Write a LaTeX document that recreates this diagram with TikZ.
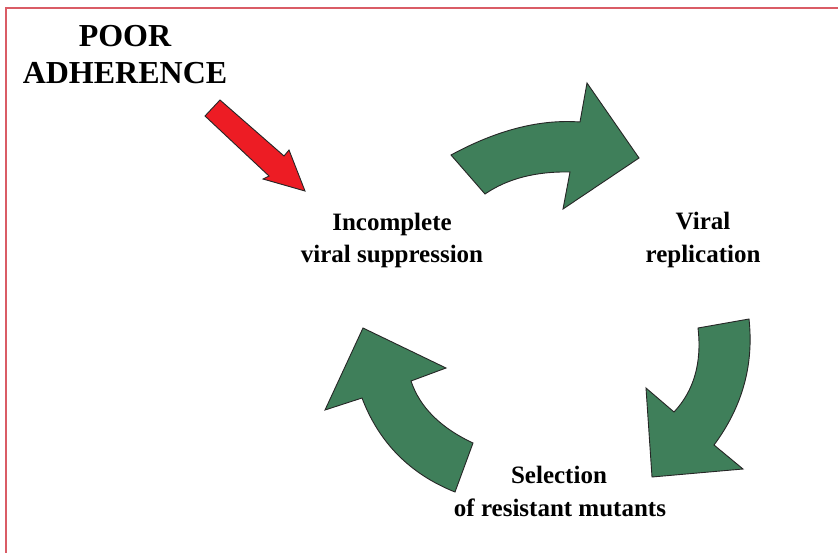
\documentclass[tikz,border=0pt]{standalone}
\usepackage{fontspec}
\setmainfont{Liberation Serif}
\definecolor{arrowgreen}{RGB}{63,127,90}
\definecolor{arrowred}{RGB}{237,28,36}
\definecolor{framered}{RGB}{218,92,102}
\begin{document}
\begin{tikzpicture}[x=1pt,y=-1pt,
  greenarrow/.style={fill=arrowgreen,draw=black!85,line width=0.9pt,line join=miter},
  redarrow/.style={fill=arrowred,draw=black!85,line width=0.9pt,line join=miter},
  label/.style={font=\fontsize{25}{33}\selectfont\bfseries,align=center,inner sep=0pt},
  title/.style={font=\fontsize{32}{37}\selectfont\bfseries,align=center,inner sep=0pt}]
\useasboundingbox (0,0) rectangle (838,552);
\fill[white] (0,0) rectangle (838,552);
% frame
\draw[framered,line width=2pt] (6,560) -- (6,7.5) -- (850,7.5);

% title
\node[title,anchor=base] (poor) at (125,46) {POOR};
\node[title,anchor=base] (adh) at (125,83) {ADHERENCE};

% labels
\node[label,anchor=base] (inc1) at (392,230) {Incomplete};
\node[label,anchor=base] (inc2) at (392,262) {viral suppression};
\node[label,anchor=base] (vir1) at (703,229) {Viral};
\node[label,anchor=base] (vir2) at (703,262) {replication};
\node[label,anchor=base] (sel1) at (559,483) {Selection};
\node[label,anchor=base] (sel2) at (560,516) {of resistant mutants};

% red arrow
\draw[redarrow] (220,100) -- (205,116) -- (269,176) -- (263,179) -- (305,191)
  -- (289,150) -- (284,156) -- cycle;

% top green arrow
\draw[greenarrow] (451,155) .. controls (497,130) and (540,119) .. (580,122)
  -- (587,83) -- (639,158) -- (563,209) -- (570,172)
  .. controls (535.7,171.3) and (507.3,178.7) .. (485,194) -- cycle;

% right green arrow
\draw[greenarrow] (698,328) -- (749,319)
  .. controls (754,365) and (742.3,407) .. (714,445)
  -- (743,469) -- (652,477) -- (646,388) -- (674,412)
  .. controls (694,390.7) and (702,362.7) .. (698,328) -- cycle;

% left green arrow
\draw[greenarrow] (363,328) -- (446,368) -- (411,381)
  .. controls (419.7,407) and (440.3,427.7) .. (473,443)
  -- (455,492)
  .. controls (410,474) and (379,442.7) .. (362,398)
  -- (325,410) -- cycle;
\end{tikzpicture}
\end{document}
